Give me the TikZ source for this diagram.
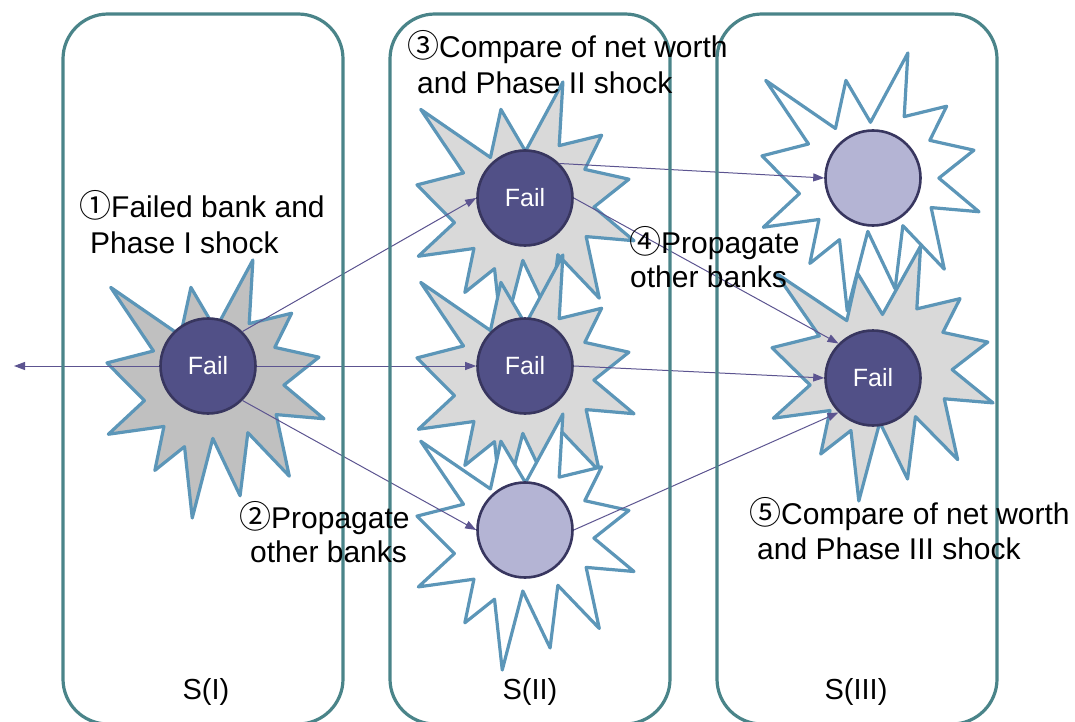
\documentclass[tikz,border=0pt]{standalone}
\usepackage{fontspec}
\setmainfont{Liberation Sans}
\newfontfamily\cjk{Noto Sans CJK JP}
\usetikzlibrary{arrows.meta}

\definecolor{boxline}{RGB}{74,132,137}
\definecolor{burstline}{RGB}{92,150,184}
\definecolor{burstdark}{RGB}{192,192,192}
\definecolor{burstlight}{RGB}{217,217,217}
\definecolor{bankdark}{RGB}{81,80,135}
\definecolor{bankedge}{RGB}{56,54,95}
\definecolor{banklight}{RGB}{180,180,212}
\definecolor{linkc}{RGB}{92,84,144}

% circled step number
\newcommand\stepno[1]{{\cjk\fontsize{32}{35}\selectfont #1}}

% explosion outline in a 216 x 216 frame, placed at (x0,y0) with width w and height h
\newcommand\burst[5]{%
  \begin{scope}[shift={(#1,#2)},xscale=#3/216,yscale=#4/216]
    \draw[burst,fill=#5] (108,58) -- (145.22,0) -- (141.55,53.25) -- (183.80,44.57)
      -- (167.02,73.15) -- (210.97,81.37) -- (176.07,104.75) -- (216,132.90)
      -- (168.37,129.42) -- (181.45,180.95) -- (140.20,144.57) -- (132.47,197.37)
      -- (105.32,149.35) -- (84.85,216) -- (77.15,156.27) -- (47.62,176.17)
      -- (56.67,139.37) -- (1.35,145.87) -- (37.22,117.75) -- (0,86.15)
      -- (46.27,76.17) -- (3.70,22.95) -- (73.12,63.20) -- (83.52,22.95) -- cycle;
  \end{scope}}

\tikzset{
  burst/.style={draw=burstline, line width=3.2pt, line join=round},
  bank/.style={circle, draw=bankedge, line width=2.6pt, minimum size=95pt, inner sep=0pt},
  failbank/.style={bank, fill=bankdark, text=white, font=\fontsize{25}{30}\selectfont},
  okbank/.style={bank, fill=banklight},
  link/.style={draw=linkc, line width=1pt, -{Triangle[length=11pt,width=8pt]}},
  panel/.style={draw=boxline, line width=3.2pt, rounded corners=45pt},
  label/.style={anchor=base west, inner sep=0pt, font=\fontsize{30}{35}\selectfont},
  stage/.style={anchor=base, inner sep=0pt, font=\fontsize{29}{35}\selectfont}
}

\begin{document}
\begin{tikzpicture}[x=1pt,y=-1pt]
\useasboundingbox (0,0) rectangle (1075,722);

% shock bursts
\burst{107}{260}{217}{258}{burstdark}
\burst{417}{82}{217}{258}{burstlight}
\burst{417}{255}{217}{258}{burstlight}
\burst{417}{414}{217}{256}{white}
\burst{762}{53}{217}{258}{white}
\burst{772}{246}{221}{255}{burstlight}

% banks
\node[failbank] (c1) at (208,366) {Fail};
\node[failbank] (c2) at (525,198) {Fail};
\node[failbank] (c3) at (525,366) {Fail};
\node[okbank]   (c4) at (525,530) {};
\node[okbank]   (c5) at (873,178) {};
\node[failbank] (c6) at (873,378) {Fail};
\coordinate (out) at (14,366);

% propagation links
\draw[link] (c1.west) -- (out);
\draw[link] (c1.north east) -- (c2.west);
\draw[link] (c1.east) -- (c3.west);
\draw[link] (c1.south east) -- (c4.west);
\draw[link] (c2.north east) -- (c5.west);
\draw[link] (c2.east) -- (c6.north west);
\draw[link] (c3.east) -- (c6.west);
\draw[link] (c4.east) -- (c6.south west);

% stage panels
\draw[panel] (63,14) rectangle (343,724);
\draw[panel] (390,14) rectangle (670,724);
\draw[panel] (717,14) rectangle (997,724);

% step labels
\node[label] (l1a) at (79,217) {\stepno{①}Failed bank and};
\node[label] (l1b) at (90,253) {Phase I shock};
\node[label] (l2a) at (239,528) {\stepno{②}Propagate};
\node[label] (l2b) at (250,562) {other banks};
\node[label] (l3a) at (407,58) {\stepno{③}Compare of net worth};
\node[label] (l3b) at (417,94) {and Phase II shock};
\node[label] (l4a) at (629,253) {\stepno{④}Propagate};
\node[label] (l4b) at (630,287) {other banks};
\node[label] (l5a) at (749,524) {\stepno{⑤}Compare of net worth};
\node[label] (l5b) at (757,559) {and Phase III shock};

% stage names
\node[stage] (n1) at (206,699) {S(I)};
\node[stage] (n2) at (530,699) {S(II)};
\node[stage] (n3) at (856,699) {S(III)};
\end{tikzpicture}
\end{document}
